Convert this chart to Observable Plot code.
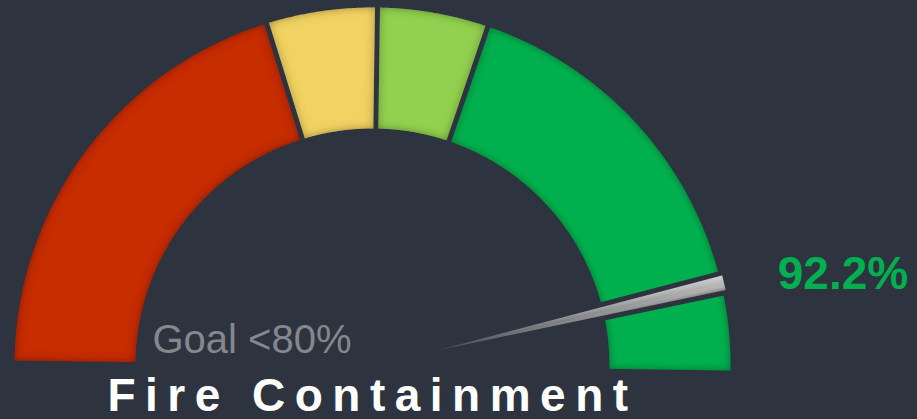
<!DOCTYPE html>
<html>
<head>
<meta charset="utf-8">
<script src="https://cdn.jsdelivr.net/npm/d3@7"></script>
<script src="https://cdn.jsdelivr.net/npm/@observablehq/plot@0.6"></script>
<style>
  html, body { margin: 0; padding: 0; background: #2e343f; }
  #chart { width: 917px; height: 419px; overflow: hidden; }
</style>
</head>
<body>
<div id="chart"></div>
<script>
// ---- data ----
const bandStarts = [0, 40, 50, 60];
const bandEnds = [40, 50, 60, 100];
const bandColors = ["#c62d00", "#f1d262", "#92d050", "#00b050"];
const gaugeMin = 0;
const gaugeMax = 100;
const actualValue = 92.2;
const valueLabel = ["92.2%"];
const goalLabel = ["Goal <80%"];
const titleLabel = ["Fire Containment"];

// ---- geometry helpers (pixel-sized data units, centre of gauge at 0,0) ----
const W = 917, H = 419, CX = 372, CY = 365;
const BG = "#2e343f";
const R_OUT = 358, R_IN = 237, GAP = 2.5;
const START_DEG = 179.2, SWEEP = 180;
const rad = Math.PI / 180;
const ang = v => (START_DEG - SWEEP * (v - gaugeMin) / (gaugeMax - gaugeMin)) * rad;

const bandPts = [];
bandStarts.forEach((s, i) => {
  const e = bandEnds[i];
  const a0 = ang(s), a1 = ang(e);
  const d0 = s === gaugeMin ? 0 : GAP, d1 = e === gaugeMax ? 0 : GAP;
  const n = 90;
  const o0 = a0 - Math.asin(d0 / R_OUT), o1 = a1 + Math.asin(d1 / R_OUT);
  for (let k = 0; k <= n; k++) {
    const a = o0 + (o1 - o0) * k / n;
    bandPts.push({band: i, fill: bandColors[i], x: R_OUT * Math.cos(a), y: R_OUT * Math.sin(a)});
  }
  const i0 = a0 - Math.asin(d0 / R_IN), i1 = a1 + Math.asin(d1 / R_IN);
  for (let k = n; k >= 0; k--) {
    const a = i0 + (i1 - i0) * k / n;
    bandPts.push({band: i, fill: bandColors[i], x: R_IN * Math.cos(a), y: R_IN * Math.sin(a)});
  }
});

const th = ang(actualValue);
const u = [Math.cos(th), Math.sin(th)], nrm = [-Math.sin(th), Math.cos(th)];
const N_TIP = 67, N_END = 361, N_HALF = 7.5;
const needlePts = [
  {x: N_TIP * u[0], y: N_TIP * u[1]},
  {x: N_END * u[0] + N_HALF * nrm[0], y: N_END * u[1] + N_HALF * nrm[1]},
  {x: N_END * u[0] - N_HALF * nrm[0], y: N_END * u[1] - N_HALF * nrm[1]}
];

const font = "Liberation Sans, Arial, Helvetica, sans-serif";

const plot = Plot.plot({
  width: W,
  height: H,
  margin: 0,
  x: {domain: [-CX, W - CX], axis: null},
  y: {domain: [-(H - CY), CY], axis: null},
  color: {type: "identity"},
  style: {background: BG, overflow: "visible"},
  marks: [
    Plot.line(bandPts, {x: "x", y: "y", z: "band", fill: "fill", stroke: "none", curve: "linear-closed"}),
    Plot.line(needlePts, {x: "x", y: "y", fill: "url(#needleLen)", stroke: BG, strokeWidth: 10,
      strokeLinejoin: "round", paintOrder: "stroke", curve: "linear-closed"}),
    Plot.line(needlePts, {x: "x", y: "y", fill: "url(#needleCross)", stroke: "none", curve: "linear-closed"}),
    Plot.text(valueLabel, {x: 470.5, y: 77, text: d => d, fill: "#00b050", fontSize: 46, fontWeight: "bold",
      fontFamily: font, textAnchor: "middle", lineAnchor: "bottom"}),
    Plot.text(goalLabel, {x: -120.5, y: 12.5, text: d => d, fill: "#84878c", fontSize: 40,
      fontFamily: font, textAnchor: "middle", lineAnchor: "bottom"}),
    Plot.text(titleLabel, {x: 0, y: -45, text: d => d, fill: "#ffffff", fontSize: 46, fontWeight: "bold",
      fontFamily: font, textAnchor: "middle", lineAnchor: "bottom"})
  ]
});

// defs: inner shadow + needle gradients, placed with the plot's scales
const sx = plot.scale("x"), sy = plot.scale("y");
const px = p => [sx.apply(p.x), sy.apply(p.y)];
const tip = px(needlePts[0]);
const endMid = px({x: N_END * u[0], y: N_END * u[1]});
const endTop = px(needlePts[1]);
const endBot = px(needlePts[2]);

const svg = d3.select(plot);
const defs = svg.insert("defs", ":first-child");
defs.html(`
  <filter id="innerShadow" x="-10%" y="-10%" width="120%" height="120%">
    <feComponentTransfer in="SourceAlpha" result="inv">
      <feFuncA type="table" tableValues="1 0"/>
    </feComponentTransfer>
    <feGaussianBlur in="inv" stdDeviation="4" result="blur"/>
    <feFlood flood-color="#000" flood-opacity="0.7"/>
    <feComposite in2="blur" operator="in" result="shadow"/>
    <feComposite in="shadow" in2="SourceAlpha" operator="in" result="inner"/>
    <feMerge><feMergeNode in="SourceGraphic"/><feMergeNode in="inner"/></feMerge>
  </filter>
  <linearGradient id="needleLen" gradientUnits="userSpaceOnUse"
      x1="${tip[0]}" y1="${tip[1]}" x2="${endMid[0]}" y2="${endMid[1]}">
    <stop offset="0" stop-color="#4a4f57"/>
    <stop offset="0.55" stop-color="#8c8d90"/>
    <stop offset="1" stop-color="#b8b8b8"/>
  </linearGradient>
  <linearGradient id="needleCross" gradientUnits="userSpaceOnUse"
      x1="${endTop[0]}" y1="${endTop[1]}" x2="${endBot[0]}" y2="${endBot[1]}">
    <stop offset="0" stop-color="#ffffff" stop-opacity="0.35"/>
    <stop offset="0.5" stop-color="#ffffff" stop-opacity="0"/>
    <stop offset="1" stop-color="#000000" stop-opacity="0.3"/>
  </linearGradient>
`);
svg.selectAll('g[aria-label="line"]').filter((d, i) => i === 0).attr("filter", "url(#innerShadow)");
svg.selectAll("text").filter(function() { return this.textContent === titleLabel[0]; })
  .style("letter-spacing", "9.5px");

document.getElementById("chart").appendChild(plot);
</script>
</body>
</html>
